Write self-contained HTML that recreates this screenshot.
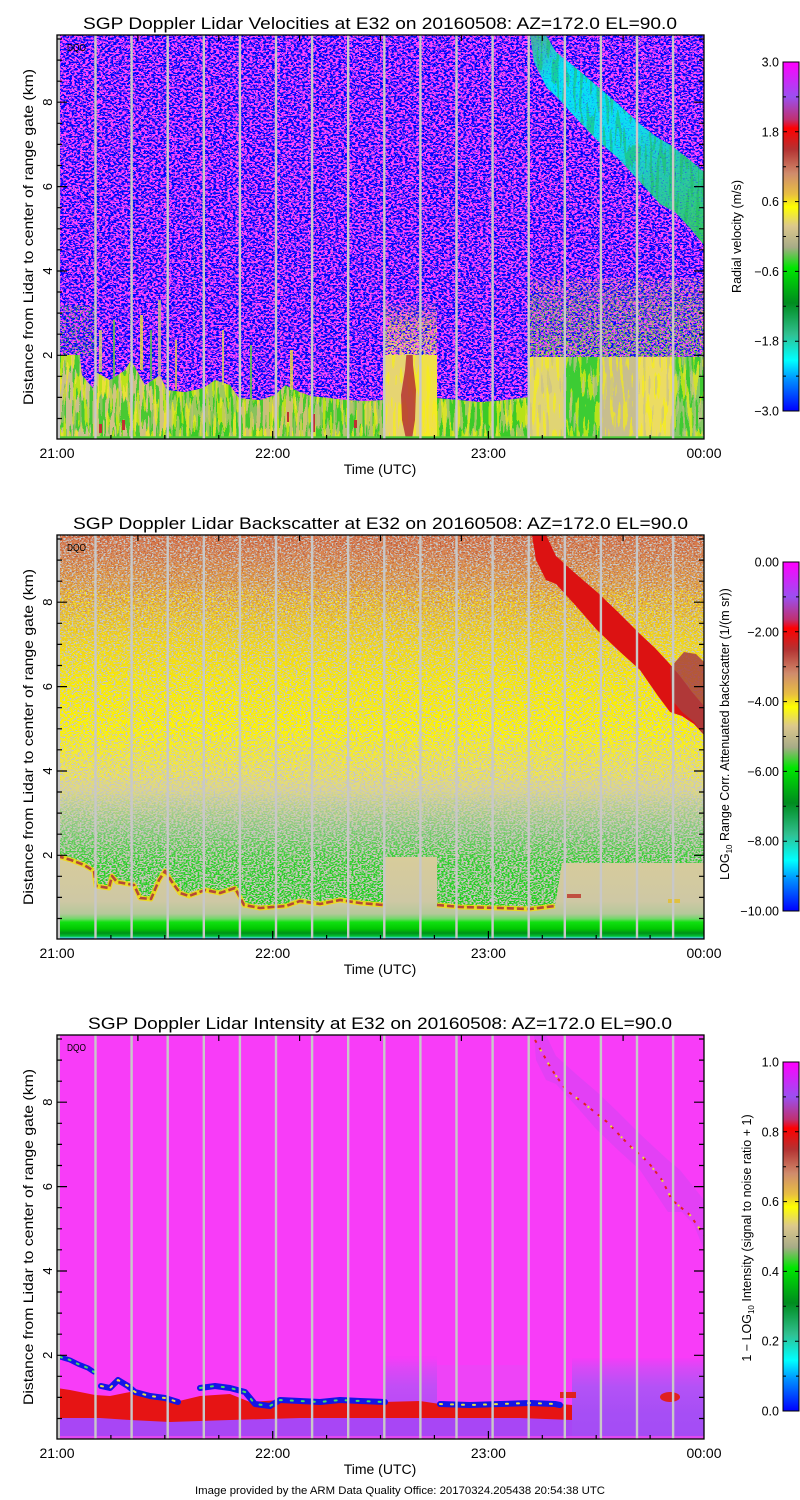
<!DOCTYPE html>
<html><head><meta charset="utf-8">
<style>
html,body{margin:0;padding:0;background:#fff;width:800px;height:1500px;overflow:hidden}
svg{display:block}
text{font-family:"Liberation Sans",Arial,sans-serif;fill:#000}
</style></head><body>
<svg xmlns="http://www.w3.org/2000/svg" width="800" height="1500" viewBox="0 0 800 1500">
<defs>
 <clipPath id="c1"><rect x="57" y="35" width="647" height="404"/></clipPath>
 <clipPath id="c2"><rect x="57" y="535" width="647" height="404"/></clipPath>
 <clipPath id="c3"><rect x="57" y="1035" width="647" height="404"/></clipPath>
 <clipPath id="n1"><polygon points="57,35 704,35 704,357 528,357 528,397 505,400 480,402 460,400 437,398 437,355 383,355 383,400 365,401 347,400 330,398 311,396 300,392 285,385 275,395 260,400 239,398 230,385 215,380 203,388 185,392 167,390 160,375 145,385 131,360 125,370 110,380 96,372 93,388 82,375 80,355 57,355"/></clipPath>
 <clipPath id="cir1"><polygon points="530,35 546,35 556,52 576,68 597,86 618,104 640,124 655,136 672,146 690,160 704,172 704,245 690,228 675,212 660,204 640,182 618,158 597,140 576,118 558,98 547,88 534,62"/></clipPath>

 <linearGradient id="cbg" x1="0" y1="0" x2="0" y2="1">
  <stop offset="0" stop-color="#ff00ff"/>
  <stop offset="0.10" stop-color="#9a50f0"/>
  <stop offset="0.165" stop-color="#c03070"/>
  <stop offset="0.19" stop-color="#ff0000"/>
  <stop offset="0.25" stop-color="#b43232"/>
  <stop offset="0.32" stop-color="#d08c6c"/>
  <stop offset="0.38" stop-color="#e8c040"/>
  <stop offset="0.415" stop-color="#ffff00"/>
  <stop offset="0.47" stop-color="#dcc88c"/>
  <stop offset="0.53" stop-color="#a8ac88"/>
  <stop offset="0.59" stop-color="#00e600"/>
  <stop offset="0.69" stop-color="#008c1e"/>
  <stop offset="0.78" stop-color="#30c090"/>
  <stop offset="0.855" stop-color="#00ffff"/>
  <stop offset="0.91" stop-color="#0090ff"/>
  <stop offset="1" stop-color="#0000ff"/>
 </linearGradient>

 <linearGradient id="p1c" gradientUnits="userSpaceOnUse" x1="535" y1="40" x2="704" y2="235">
  <stop offset="0" stop-color="#40b8a0"/>
  <stop offset="0.15" stop-color="#00e8f4"/>
  <stop offset="0.5" stop-color="#08e4f0"/>
  <stop offset="0.7" stop-color="#20d0b0"/>
  <stop offset="1" stop-color="#30d060"/>
 </linearGradient>
 <linearGradient id="mz" gradientUnits="userSpaceOnUse" x1="0" y1="278" x2="0" y2="358">
  <stop offset="0" stop-color="#60d040" stop-opacity="0"/>
  <stop offset="0.3" stop-color="#60d040" stop-opacity="0.6"/>
  <stop offset="1" stop-color="#60d040" stop-opacity="1"/>
 </linearGradient>
 <linearGradient id="mzy" gradientUnits="userSpaceOnUse" x1="0" y1="300" x2="0" y2="356">
  <stop offset="0" stop-color="#f0e040" stop-opacity="0"/>
  <stop offset="0.4" stop-color="#f0e040" stop-opacity="0.7"/>
  <stop offset="1" stop-color="#e8d870" stop-opacity="1"/>
 </linearGradient>

 <linearGradient id="p2b" gradientUnits="userSpaceOnUse" x1="0" y1="535" x2="0" y2="939">
  <stop offset="0" stop-color="#d8744a"/>
  <stop offset="0.05" stop-color="#d88650"/>
  <stop offset="0.11" stop-color="#e09e46"/>
  <stop offset="0.21" stop-color="#eac42a"/>
  <stop offset="0.36" stop-color="#f6e60c"/>
  <stop offset="0.48" stop-color="#fcf204"/>
  <stop offset="0.58" stop-color="#ebe060"/>
  <stop offset="0.66" stop-color="#d6d29a"/>
  <stop offset="0.73" stop-color="#c8c8b0"/>
  <stop offset="1" stop-color="#c0c4b0"/>
 </linearGradient>
 <linearGradient id="p2o" gradientUnits="userSpaceOnUse" x1="0" y1="535" x2="0" y2="645">
  <stop offset="0" stop-color="#b85a3c" stop-opacity="1"/>
  <stop offset="0.5" stop-color="#c46a44" stop-opacity="0.7"/>
  <stop offset="1" stop-color="#c46a44" stop-opacity="0"/>
 </linearGradient>
 <linearGradient id="p2g" gradientUnits="userSpaceOnUse" x1="0" y1="790" x2="0" y2="920">
  <stop offset="0" stop-color="#18d018" stop-opacity="0"/>
  <stop offset="0.3" stop-color="#18d018" stop-opacity="0.4"/>
  <stop offset="0.55" stop-color="#18d018" stop-opacity="0.85"/>
  <stop offset="1" stop-color="#18d018" stop-opacity="1"/>
 </linearGradient>
 <linearGradient id="p2l" gradientUnits="userSpaceOnUse" x1="0" y1="855" x2="0" y2="939">
  <stop offset="0" stop-color="#d8cc9a"/>
  <stop offset="0.55" stop-color="#cec8a4"/>
  <stop offset="0.7" stop-color="#b4c89a"/>
  <stop offset="0.76" stop-color="#70d868"/>
  <stop offset="0.8" stop-color="#10e010"/>
  <stop offset="0.88" stop-color="#00c800"/>
  <stop offset="0.93" stop-color="#00901a"/>
  <stop offset="0.965" stop-color="#00c030"/>
  <stop offset="0.985" stop-color="#40d0d0"/>
  <stop offset="1" stop-color="#3070ff"/>
 </linearGradient>

 <linearGradient id="p3h" gradientUnits="userSpaceOnUse" x1="0" y1="1358" x2="0" y2="1439">
  <stop offset="0" stop-color="#f43cf8"/>
  <stop offset="0.12" stop-color="#d848f6"/>
  <stop offset="0.35" stop-color="#b452f6"/>
  <stop offset="0.7" stop-color="#a64ef5"/>
  <stop offset="1" stop-color="#a44cf5"/>
 </linearGradient>

 <filter id="fMB" x="0" y="0" width="1" height="1" color-interpolation-filters="sRGB">
  <feTurbulence type="fractalNoise" baseFrequency="0.36 0.55" numOctaves="2" seed="21" result="t"/>
  <feComponentTransfer in="t" result="d"><feFuncR type="discrete" tableValues="0 1"/></feComponentTransfer>
  <feColorMatrix in="d" type="matrix" values="1 0 0 0 0  0.25 0 0 0 0.02  0 0 0 0 1  0 0 0 0 1"/>
 </filter>
 <filter id="sA" x="0" y="0" width="1" height="1" color-interpolation-filters="sRGB">
  <feTurbulence type="fractalNoise" baseFrequency="0.5 0.7" numOctaves="1" seed="2"/>
  <feColorMatrix type="matrix" values="0 0 0 0 0  0 0 0 0 0  0 0 0 0 0  1 0 0 0 0"/>
  <feComponentTransfer><feFuncA type="discrete" tableValues="0 0 0 0 0 0 0 0 0 0 1 1 1 1 1 1 1 1 1 1"/></feComponentTransfer>
  <feComposite in="SourceGraphic" operator="in"/>
 </filter>
 <filter id="sB" x="0" y="0" width="1" height="1" color-interpolation-filters="sRGB">
  <feTurbulence type="fractalNoise" baseFrequency="0.5 0.7" numOctaves="1" seed="5"/>
  <feColorMatrix type="matrix" values="0 0 0 0 0  0 0 0 0 0  0 0 0 0 0  1 0 0 0 0"/>
  <feComponentTransfer><feFuncA type="discrete" tableValues="0 0 0 0 0 0 0 0 0 0 0 1 1 1 1 1 1 1 1 1"/></feComponentTransfer>
  <feComposite in="SourceGraphic" operator="in"/>
 </filter>
 <filter id="sC" x="0" y="0" width="1" height="1" color-interpolation-filters="sRGB">
  <feTurbulence type="fractalNoise" baseFrequency="0.55 0.8" numOctaves="1" seed="9"/>
  <feColorMatrix type="matrix" values="0 0 0 0 0  0 0 0 0 0  0 0 0 0 0  1 0 0 0 0"/>
  <feComponentTransfer><feFuncA type="discrete" tableValues="0 0 0 0 0 0 0 0 0 0 0 0 1 1 1 1 1 1 1 1"/></feComponentTransfer>
  <feComposite in="SourceGraphic" operator="in"/>
 </filter>
 <filter id="sD" x="0" y="0" width="1" height="1" color-interpolation-filters="sRGB">
  <feTurbulence type="fractalNoise" baseFrequency="0.6 0.8" numOctaves="1" seed="13"/>
  <feColorMatrix type="matrix" values="0 0 0 0 0  0 0 0 0 0  0 0 0 0 0  1 0 0 0 0"/>
  <feComponentTransfer><feFuncA type="discrete" tableValues="0 0 0 0 0 0 0 0 0 0 0 0 0 1 1 1 1 1 1 1"/></feComponentTransfer>
  <feComposite in="SourceGraphic" operator="in"/>
 </filter>
 <filter id="vA" x="0" y="0" width="1" height="1" color-interpolation-filters="sRGB">
  <feTurbulence type="fractalNoise" baseFrequency="0.3 0.035" numOctaves="1" seed="4"/>
  <feColorMatrix type="matrix" values="0 0 0 0 0  0 0 0 0 0  0 0 0 0 0  1 0 0 0 0"/>
  <feComponentTransfer><feFuncA type="discrete" tableValues="0 0 0 0 0 0 0 0 0 0 1 1 1 1 1 1 1 1 1 1"/></feComponentTransfer>
  <feComposite in="SourceGraphic" operator="in"/>
 </filter>
 <filter id="vB" x="0" y="0" width="1" height="1" color-interpolation-filters="sRGB">
  <feTurbulence type="fractalNoise" baseFrequency="0.3 0.035" numOctaves="1" seed="8"/>
  <feColorMatrix type="matrix" values="0 0 0 0 0  0 0 0 0 0  0 0 0 0 0  1 0 0 0 0"/>
  <feComponentTransfer><feFuncA type="discrete" tableValues="0 0 0 0 0 0 0 0 0 0 0 1 1 1 1 1 1 1 1 1"/></feComponentTransfer>
  <feComposite in="SourceGraphic" operator="in"/>
 </filter>
 <filter id="vC" x="0" y="0" width="1" height="1" color-interpolation-filters="sRGB">
  <feTurbulence type="fractalNoise" baseFrequency="0.3 0.035" numOctaves="1" seed="17"/>
  <feColorMatrix type="matrix" values="0 0 0 0 0  0 0 0 0 0  0 0 0 0 0  1 0 0 0 0"/>
  <feComponentTransfer><feFuncA type="discrete" tableValues="0 0 0 0 0 0 0 0 0 0 0 0 1 1 1 1 1 1 1 1"/></feComponentTransfer>
  <feComposite in="SourceGraphic" operator="in"/>
 </filter>

 <g id="gaps" fill="#c8c8c8">
  <rect x="57" y="35" width="3" height="404"/>
  <rect x="94.3" y="35" width="2.4" height="404"/>
  <rect x="130.4" y="35" width="2.4" height="404"/>
  <rect x="166.5" y="35" width="2.4" height="404"/>
  <rect x="202.6" y="35" width="2.4" height="404"/>
  <rect x="238.7" y="35" width="2.4" height="404"/>
  <rect x="274.8" y="35" width="2.4" height="404"/>
  <rect x="310.9" y="35" width="2.4" height="404"/>
  <rect x="347.0" y="35" width="2.4" height="404"/>
  <rect x="383.1" y="35" width="2.4" height="404"/>
  <rect x="419.2" y="35" width="2.4" height="404"/>
  <rect x="455.3" y="35" width="2.4" height="404"/>
  <rect x="491.4" y="35" width="2.4" height="404"/>
  <rect x="527.5" y="35" width="2.4" height="404"/>
  <rect x="563.6" y="35" width="2.4" height="404"/>
  <rect x="599.7" y="35" width="2.4" height="404"/>
  <rect x="635.8" y="35" width="2.4" height="404"/>
  <rect x="671.9" y="35" width="2.4" height="404"/>
 </g>

 <g id="axes">
  <rect x="57" y="35" width="647" height="404" fill="none" stroke="#000" stroke-width="1.3"/>
  <path stroke="#000" stroke-width="1.2" fill="none" d="M57 355.3h10M57 271h10M57 186.6h10M57 102.2h10M57 418.5h5M57 397.4h5M57 376.3h5M57 334.2h5M57 313.1h5M57 292h5M57 249.8h5M57 228.8h5M57 207.7h5M57 165.5h5M57 144.4h5M57 123.3h5M57 81.2h5M57 60.1h5M57 39h5M704 355.3h-10M704 271h-10M704 186.6h-10M704 102.2h-10M704 418.5h-5M704 397.4h-5M704 376.3h-5M704 334.2h-5M704 313.1h-5M704 292h-5M704 249.8h-5M704 228.8h-5M704 207.7h-5M704 165.5h-5M704 144.4h-5M704 123.3h-5M704 81.2h-5M704 60.1h-5M704 39h-5M272.7 439v-8M488.4 439v-8M110.9 439v-4M164.8 439v-4M218.8 439v-4M326.6 439v-4M380.5 439v-4M434.4 439v-4M542.3 439v-4M596.2 439v-4M650.1 439v-4M137.9 35v6M218.8 35v6M299.6 35v6M380.5 35v6M461.4 35v6M542.3 35v6M623.1 35v6"/>
  <rect x="783" y="62" width="16" height="349" fill="url(#cbg)" stroke="#000" stroke-width="1"/>
  <path stroke="#000" stroke-width="1" fill="none" d="M783 131.8h4M783 201.6h4M783 271.4h4M783 341.2h4M783 96.9h3M783 166.7h3M783 236.5h3M783 306.3h3M783 376.1h3M799 131.8h-4M799 201.6h-4M799 271.4h-4M799 341.2h-4M799 96.9h-3M799 166.7h-3M799 236.5h-3M799 306.3h-3M799 376.1h-3"/>
  <text x="57" y="458" font-size="14" text-anchor="middle">21:00</text>
  <text x="272.7" y="458" font-size="14" text-anchor="middle">22:00</text>
  <text x="488.4" y="458" font-size="14" text-anchor="middle">23:00</text>
  <text x="704" y="458" font-size="14" text-anchor="middle">00:00</text>
  <text x="380" y="474" font-size="14" text-anchor="middle">Time (UTC)</text>
  <text transform="translate(52,355.3) rotate(-90)" font-size="13" text-anchor="middle">2</text>
  <text transform="translate(52,271) rotate(-90)" font-size="13" text-anchor="middle">4</text>
  <text transform="translate(52,186.6) rotate(-90)" font-size="13" text-anchor="middle">6</text>
  <text transform="translate(52,102.2) rotate(-90)" font-size="13" text-anchor="middle">8</text>
  <text transform="translate(33,237) rotate(-90)" font-size="14" text-anchor="middle" textLength="336" lengthAdjust="spacingAndGlyphs">Distance from Lidar to center of range gate (km)</text>
  <text x="67" y="51" font-size="10" textLength="19" lengthAdjust="spacingAndGlyphs">DQO</text>
 </g>
</defs>

<rect width="800" height="1500" fill="#fff"/>

<!-- ================= PANEL 1 ================= -->
<g clip-path="url(#c1)">
 <rect x="57" y="330" width="38" height="109" fill="#c9bf8e"/>
 <rect x="95" y="330" width="72" height="109" fill="#d0c284"/>
 <rect x="167" y="330" width="73" height="109" fill="#9ec85e"/>
 <rect x="240" y="330" width="70" height="109" fill="#cbc272"/>
 <rect x="310" y="330" width="73" height="109" fill="#b2c26c"/>
 <rect x="383" y="300" width="37" height="139" fill="#e6d472"/>
 <rect x="420" y="300" width="17" height="139" fill="#f0e048"/>
 <rect x="437" y="330" width="91" height="109" fill="#a2c862"/>
 <rect x="528" y="330" width="36" height="109" fill="#e0d474"/>
 <rect x="564" y="330" width="36" height="109" fill="#3ccc34"/>
 <rect x="600" y="330" width="36" height="109" fill="#c8be8e"/>
 <rect x="636" y="330" width="36" height="109" fill="#ecdc62"/>
 <rect x="672" y="330" width="32" height="109" fill="#86c864"/>
 <rect x="57" y="330" width="326" height="109" fill="#10cc10" filter="url(#vA)" opacity="0.7"/>
 <rect x="437" y="330" width="91" height="109" fill="#10cc10" filter="url(#vA)" opacity="0.7"/>
 <rect x="672" y="330" width="32" height="109" fill="#10cc10" filter="url(#vA)" opacity="0.6"/>
 <rect x="57" y="330" width="647" height="109" fill="#f8f010" filter="url(#vB)" opacity="0.65"/>
 <rect x="528" y="330" width="176" height="109" fill="#c8c090" filter="url(#vC)" opacity="0.7"/>
 <rect x="57" y="330" width="326" height="109" fill="#c8bc8c" filter="url(#vC)" opacity="0.5"/>
 <polygon points="409,325 412,325 413,365 416,390 415,420 412,439 406,439 402,420 401,395 405,370" fill="#b43232" opacity="0.85"/>
 <rect x="99" y="424" width="3" height="9" fill="#c03030"/>
 <rect x="122" y="420" width="3" height="10" fill="#c03030"/>
 <rect x="287" y="412" width="2" height="10" fill="#c03030"/>
 <rect x="312" y="414" width="3" height="18" fill="#c03030"/>
 <rect x="354" y="420" width="3" height="8" fill="#c03030"/>

 <g clip-path="url(#n1)">
  <rect x="57" y="35" width="647" height="404" fill="#8c1cf4"/>
  <rect x="57" y="35" width="647" height="404" fill="#000" filter="url(#fMB)"/>
  <rect x="57" y="35" width="647" height="404" fill="#30d040" filter="url(#sD)" opacity="0.3"/>
  <rect x="528" y="278" width="176" height="80" fill="url(#mz)" filter="url(#sB)"/>
  <rect x="528" y="278" width="176" height="80" fill="#f0e040" filter="url(#sC)" opacity="0.6"/>
  <rect x="383" y="300" width="54" height="56" fill="url(#mzy)" filter="url(#sA)"/>
  <rect x="57" y="305" width="38" height="51" fill="#30c830" filter="url(#sC)" opacity="0.8"/>
 </g>
 <g opacity="0.8">
  <rect x="99" y="330" width="3" height="42" fill="#d8d070"/>
  <rect x="113" y="320" width="2" height="60" fill="#60c840"/>
  <rect x="140" y="315" width="3" height="55" fill="#e8e040"/>
  <rect x="150" y="330" width="2" height="50" fill="#50c850"/>
  <rect x="158" y="300" width="3" height="75" fill="#c8c088"/>
  <rect x="175" y="340" width="2" height="50" fill="#e0d050"/>
  <rect x="222" y="330" width="2" height="55" fill="#e0d860"/>
  <rect x="250" y="345" width="2" height="55" fill="#60d040"/>
  <rect x="290" y="350" width="3" height="40" fill="#e8d840"/>
 </g>
 <g clip-path="url(#cir1)">
  <rect x="528" y="35" width="176" height="212" fill="url(#p1c)" opacity="0.95"/>
  <rect x="528" y="35" width="176" height="212" fill="#20c050" filter="url(#vB)" opacity="0.5"/>
  <rect x="528" y="35" width="176" height="212" fill="#3030ff" filter="url(#sD)" opacity="0.55"/>
 </g>
 <rect x="57" y="436.3" width="647" height="2.7" fill="#4cc83c"/>
</g>
<use href="#gaps"/>
<use href="#axes"/>
<text x="380" y="29" font-size="16.5" text-anchor="middle" textLength="594" lengthAdjust="spacingAndGlyphs">SGP Doppler Lidar Velocities at E32 on 20160508: AZ=172.0 EL=90.0</text>
<text x="779" y="66.5" font-size="12.5" text-anchor="end">3.0</text>
<text x="779" y="136.3" font-size="12.5" text-anchor="end">1.8</text>
<text x="779" y="206.1" font-size="12.5" text-anchor="end">0.6</text>
<text x="779" y="275.9" font-size="12.5" text-anchor="end">−0.6</text>
<text x="779" y="345.7" font-size="12.5" text-anchor="end">−1.8</text>
<text x="779" y="415.5" font-size="12.5" text-anchor="end">−3.0</text>
<text transform="translate(741,236.5) rotate(-90)" font-size="12.5" text-anchor="middle" textLength="113" lengthAdjust="spacingAndGlyphs">Radial velocity (m/s)</text>

<!-- ================= PANEL 2 ================= -->
<g clip-path="url(#c2)">
 <rect x="57" y="535" width="647" height="404" fill="url(#p2b)"/>
 <rect x="57" y="535" width="647" height="404" fill="#c6c6c6" filter="url(#sB)"/>
 <rect x="57" y="535" width="647" height="110" fill="url(#p2o)" filter="url(#sC)"/>
 <rect x="57" y="590" width="647" height="190" fill="#fff400" filter="url(#sD)"/>
 <rect x="57" y="790" width="647" height="130" fill="url(#p2g)" filter="url(#sA)"/>
 <polygon points="57,856 71,860 84,865 94,871 96,886 109,888 112,876 117,882 134,885 140,898 151,899 159,880 165,871 172,882 180,893 189,896 205,890 220,893 235,888 244,905 260,908 286,906 300,901 320,904 340,900 360,903 383,905 383,857 437,857 437,905 460,907 500,908 530,909 555,906 562,863 704,863 704,939 57,939" fill="url(#p2l)"/>
 <g fill="none" stroke-linejoin="round">
  <polyline points="57,856 71,860 84,865 94,871 96,886 109,888 112,876 117,882 134,885 140,898 151,899 159,880 165,871 172,882 180,893 189,896 205,890 220,893 235,888 244,905 260,908 286,906 300,901 320,904 340,900 360,903 383,905" stroke="#f0dc10" stroke-width="5" opacity="0.85"/>
  <polyline points="437,905 460,907 500,908 530,909 555,906" stroke="#f0dc10" stroke-width="5" opacity="0.85"/>
  <polyline points="57,856 71,860 84,865 94,871 96,886 109,888 112,876 117,882 134,885 140,898 151,899 159,880 165,871 172,882 180,893 189,896 205,890 220,893 235,888 244,905 260,908 286,906 300,901 320,904 340,900 360,903 383,905" stroke="#b44838" stroke-width="2.6" stroke-dasharray="7 3"/>
  <polyline points="437,905 460,907 500,908 530,909 555,906" stroke="#b44838" stroke-width="2.6" stroke-dasharray="7 3"/>
 </g>
 <rect x="567" y="894" width="14" height="4" fill="#c05040"/>
 <rect x="668" y="899" width="12" height="4" fill="#e0c040"/>
 <polygon points="532,535 546,535 556,556 576,574 597,592 618,612 640,634 655,648 668,662 680,676 692,692 704,706 704,735 694,724 682,716 670,712 658,696 640,670 618,650 597,630 576,606 556,584 546,580 536,560" fill="#dc1212"/>
 <polygon points="670,668 684,652 696,654 704,662 704,735 694,722 682,712 672,700" fill="#a84040" opacity="0.85"/>
</g>
<use href="#gaps" transform="translate(0,500)"/>
<use href="#axes" transform="translate(0,500)"/>
<text x="380.5" y="529" font-size="16.5" text-anchor="middle" textLength="615" lengthAdjust="spacingAndGlyphs">SGP Doppler Lidar Backscatter at E32 on 20160508: AZ=172.0 EL=90.0</text>
<text x="779" y="566.5" font-size="12.5" text-anchor="end">0.00</text>
<text x="779" y="636.3" font-size="12.5" text-anchor="end">−2.00</text>
<text x="779" y="706.1" font-size="12.5" text-anchor="end">−4.00</text>
<text x="779" y="775.9" font-size="12.5" text-anchor="end">−6.00</text>
<text x="779" y="845.7" font-size="12.5" text-anchor="end">−8.00</text>
<text x="779" y="915.5" font-size="12.5" text-anchor="end">−10.00</text>
<text transform="translate(729,734) rotate(-90)" font-size="12.5" text-anchor="middle">LOG<tspan font-size="8" dy="3">10</tspan><tspan dy="-3"> Range Corr. Attenuated backscatter (1/(m sr))</tspan></text>

<!-- ================= PANEL 3 ================= -->
<g clip-path="url(#c3)">
 <rect x="57" y="1035" width="647" height="404" fill="#f83cf8"/>
 <rect x="572" y="1358" width="132" height="81" fill="url(#p3h)"/>
 <rect x="383" y="1356" width="54" height="62" fill="url(#p3h)" opacity="0.8"/>
 <rect x="437" y="1365" width="93" height="35" fill="#e848f6" opacity="0.6"/>
 <rect x="57" y="1410" width="515" height="27" fill="#a846f5"/>
 <polygon points="57,1388 70,1390 85,1393 95,1395 110,1396 130,1392 150,1398 175,1402 200,1396 230,1394 250,1402 280,1400 320,1402 360,1403 383,1402 420,1401 440,1404 480,1405 520,1405 560,1404 572,1405 572,1420 520,1418 440,1418 383,1418 300,1418 230,1420 170,1422 130,1420 100,1418 57,1418" fill="#e61414"/>
 <g fill="none" stroke-linejoin="round" stroke-linecap="round">
  <polyline points="60,1357 70,1360 78,1364 88,1368 94,1372" stroke="#1414e6" stroke-width="5"/>
  <polyline points="101,1386 110,1388 118,1380 128,1386 135,1392 150,1396 165,1398 178,1402" stroke="#1414e6" stroke-width="6"/>
  <polyline points="200,1388 215,1386 230,1388 245,1392 255,1404 270,1406 280,1400 300,1401 320,1402 340,1400 360,1401 385,1402" stroke="#1414e6" stroke-width="6"/>
  <polyline points="440,1404 470,1405 500,1404 530,1403 555,1404 560,1405" stroke="#1414e6" stroke-width="6"/>
  <polyline points="60,1357 70,1360 78,1364 88,1368 94,1372" stroke="#40e060" stroke-width="2" stroke-dasharray="2 7"/>
  <polyline points="101,1386 110,1388 118,1380 128,1386 135,1392 150,1396 165,1398 178,1402" stroke="#e8e040" stroke-width="2" stroke-dasharray="2 8"/>
  <polyline points="200,1388 215,1386 230,1388 245,1392 255,1404 270,1406 280,1400 300,1401 320,1402 340,1400 360,1401 385,1402" stroke="#40e060" stroke-width="2" stroke-dasharray="2 9"/>
  <polyline points="440,1404 470,1405 500,1404 530,1403 555,1404 560,1405" stroke="#e8e040" stroke-width="2" stroke-dasharray="2 9"/>
 </g>
 <rect x="560" y="1392" width="16" height="6" fill="#e02020"/>
 <ellipse cx="670" cy="1397" rx="10" ry="5" fill="#e02020"/>
 <rect x="57" y="1436" width="647" height="3" fill="#e048f0"/>
 <polygon points="534,1035 546,1035 556,1056 576,1074 597,1092 618,1112 640,1134 655,1148 668,1160 680,1170 692,1185 704,1200 704,1250 694,1225 682,1212 668,1212 656,1194 640,1170 618,1150 597,1130 576,1106 556,1084 546,1080 536,1060" fill="#b44cf0" opacity="0.3"/>
 <polyline points="535,1040 552,1070 566,1090 586,1105 607,1122 629,1145 648,1162 662,1180 672,1200 690,1215 704,1235" fill="none" stroke="#e02020" stroke-width="2" stroke-dasharray="3 6"/>
 <polyline points="535,1040 552,1070 566,1090 586,1105 607,1122 629,1145 648,1162 662,1180 672,1200 690,1215 704,1235" fill="none" stroke="#e8e040" stroke-width="2" stroke-dasharray="2 13" stroke-dashoffset="4"/>
</g>
<use href="#gaps" transform="translate(0,1000)"/>
<use href="#axes" transform="translate(0,1000)"/>
<text x="380" y="1029" font-size="16.5" text-anchor="middle" textLength="584" lengthAdjust="spacingAndGlyphs">SGP Doppler Lidar Intensity at E32 on 20160508: AZ=172.0 EL=90.0</text>
<text x="779" y="1066.5" font-size="12.5" text-anchor="end">1.0</text>
<text x="779" y="1136.3" font-size="12.5" text-anchor="end">0.8</text>
<text x="779" y="1206.1" font-size="12.5" text-anchor="end">0.6</text>
<text x="779" y="1275.9" font-size="12.5" text-anchor="end">0.4</text>
<text x="779" y="1345.7" font-size="12.5" text-anchor="end">0.2</text>
<text x="779" y="1415.5" font-size="12.5" text-anchor="end">0.0</text>
<text transform="translate(751,1238) rotate(-90)" font-size="12.5" text-anchor="middle">1 − LOG<tspan font-size="8" dy="3">10</tspan><tspan dy="-3"> Intensity (signal to noise ratio + 1)</tspan></text>

<text x="400" y="1494" font-size="11" text-anchor="middle" textLength="410" lengthAdjust="spacingAndGlyphs">Image provided by the ARM Data Quality Office: 20170324.205438 20:54:38 UTC</text>
</svg>
</body></html>
